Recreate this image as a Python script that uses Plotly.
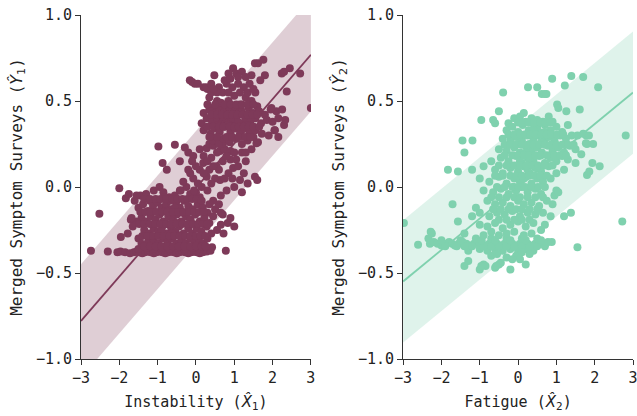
import numpy as np
import plotly.graph_objects as go

# ---------------- data ----------------
# Left panel: Instability (X1) vs merged symptom surveys (Y1)
left_pts = [
    # floor row
    (-2.74,-0.37),(-2.30,-0.375),(-2.05,-0.38),(-1.97,-0.375),(-1.85,-0.38),(-1.72,-0.385),(-1.62,-0.38),
    (-1.55,-0.375),(-1.48,-0.38),(-1.40,-0.385),(-1.33,-0.38),(-1.25,-0.375),(-1.18,-0.38),(-1.10,-0.385),
    (-1.03,-0.38),(-0.95,-0.375),(-0.88,-0.38),(-0.80,-0.385),(-0.72,-0.38),(-0.65,-0.375),(-0.58,-0.38),
    (-0.50,-0.385),(-0.43,-0.38),(-0.35,-0.375),(-0.28,-0.38),(-0.20,-0.385),(-0.12,-0.38),(-0.05,-0.375),
    (0.02,-0.38),(0.10,-0.385),(0.18,-0.38),(0.28,-0.375),(0.38,-0.37),(0.78,-0.37),
    (-1.50,-0.36),(-1.30,-0.355),(-1.10,-0.36),(-0.90,-0.355),(-0.70,-0.36),(-0.50,-0.355),(-0.30,-0.36),
    (-0.10,-0.355),(0.10,-0.36),
    # lower cluster
    (-2.52,-0.156),(-2.00,-0.007),(-1.83,-0.065),(-1.70,-0.19),(-1.96,-0.29),(-1.78,-0.27),
    (-1.45,-0.05),(-1.30,-0.04),(-1.20,-0.08),(-1.10,-0.02),(-0.95,0.00),(-0.85,-0.03),(-0.70,-0.06),
    (-0.55,-0.05),(-0.40,-0.02),(-0.25,0.00),(-0.15,-0.04),(0.00,-0.03),(0.10,-0.06),
    (-1.50,-0.12),(-1.38,-0.10),(-1.25,-0.14),(-1.12,-0.11),(-1.00,-0.09),(-0.90,-0.12),(-0.78,-0.10),
    (-0.65,-0.13),(-0.52,-0.09),(-0.42,-0.12),(-0.30,-0.08),(-0.20,-0.11),(-0.08,-0.13),(0.05,-0.10),
    (0.18,-0.12),(0.30,-0.15),
    (-1.42,-0.18),(-1.30,-0.20),(-1.18,-0.17),(-1.05,-0.19),(-0.95,-0.16),(-0.85,-0.20),(-0.72,-0.17),
    (-0.60,-0.19),(-0.50,-0.16),(-0.38,-0.20),(-0.26,-0.17),(-0.14,-0.19),(-0.02,-0.16),(0.10,-0.20),
    (0.22,-0.18),(0.35,-0.21),(0.45,-0.17),
    (-1.35,-0.25),(-1.22,-0.27),(-1.10,-0.24),(-0.98,-0.26),(-0.88,-0.23),(-0.76,-0.27),(-0.64,-0.24),
    (-0.54,-0.26),(-0.44,-0.23),(-0.32,-0.27),(-0.20,-0.24),(-0.10,-0.27),(0.02,-0.24),(0.14,-0.26),
    (0.28,-0.23),
    (-1.25,-0.32),(-1.10,-0.31),(-0.98,-0.33),(-0.86,-0.30),(-0.74,-0.32),(-0.62,-0.30),(-0.50,-0.33),
    (-0.38,-0.31),(-0.26,-0.33),(-0.14,-0.30),(-0.04,-0.32),(0.08,-0.31),(0.20,-0.33),
    (-0.80,-0.14),(-0.70,-0.22),(-0.60,-0.15),(-0.50,-0.21),(-0.45,-0.28),(-0.75,-0.29),(-0.90,-0.25),
    (-0.62,-0.27),(-0.35,-0.15),(-0.55,-0.12),(-0.68,-0.08),(-0.82,-0.06),
    (0.50,-0.13),(0.60,-0.10),(0.70,-0.16),(0.65,-0.15),(0.83,-0.21),(0.65,-0.22),(0.55,-0.25),
    (0.40,-0.27),(0.90,-0.18),(1.00,-0.23),(0.72,-0.27),(0.30,-0.30),(0.42,-0.35),
    (-1.60,-0.08),(-1.55,-0.20),(-1.65,-0.23),(-1.50,-0.30),(-1.42,-0.33),(-1.68,-0.18),
    (-1.75,-0.04),(-1.55,-0.05),
    (-1.35,-0.07),(-1.20,-0.07),(-1.05,-0.07),(-0.92,-0.07),(-0.78,-0.07),(-0.62,-0.07),(-0.48,-0.07),
    (-0.35,-0.07),(-0.22,-0.07),(-0.10,-0.07),(0.02,-0.07),
    (-1.45,-0.145),(-1.32,-0.145),(-1.18,-0.145),(-1.03,-0.145),(-0.88,-0.145),(-0.74,-0.145),
    (-0.60,-0.145),(-0.46,-0.145),(-0.32,-0.145),(-0.18,-0.145),(-0.05,-0.145),(0.08,-0.145),(0.20,-0.145),
    (-1.48,-0.215),(-1.35,-0.215),(-1.20,-0.215),(-1.06,-0.215),(-0.92,-0.215),(-0.78,-0.215),
    (-0.64,-0.215),(-0.50,-0.215),(-0.36,-0.215),(-0.22,-0.215),(-0.08,-0.215),(0.06,-0.215),
    (0.18,-0.215),(0.30,-0.215),
    (-1.40,-0.285),(-1.26,-0.285),(-1.12,-0.285),(-0.98,-0.285),(-0.84,-0.285),(-0.70,-0.285),
    (-0.56,-0.285),(-0.42,-0.285),(-0.28,-0.285),(-0.14,-0.285),(0.00,-0.285),(0.12,-0.285),(0.24,-0.285),
    (-1.35,-0.345),(-1.20,-0.345),(-1.05,-0.345),(-0.90,-0.345),(-0.75,-0.345),(-0.60,-0.345),
    (-0.45,-0.345),(-0.30,-0.345),(-0.15,-0.345),(0.00,-0.345),(0.15,-0.345),(0.25,-0.345),
    # middle diagonal
    (-0.98,0.235),(-0.55,0.245),(-0.29,0.23),(-0.87,0.14),(-0.76,0.10),(-0.42,0.15),(-0.20,0.20),
    (-0.07,0.18),(0.28,0.225),(0.35,0.25),(0.45,0.24),(0.63,0.21),(0.75,0.22),(0.90,0.21),(1.00,0.20),
    (1.58,0.255),(1.54,0.06),(1.60,0.04),(0.19,0.14),(0.54,0.12),(0.97,0.11),(1.15,0.04),(0.63,0.04),
    (0.28,0.06),(-0.07,0.05),(-0.33,0.03),(-0.42,-0.02),(0.10,0.10),(0.40,0.17),(0.70,0.15),(0.85,0.08),
    (1.10,0.12),(1.25,0.08),(1.30,0.15),(0.50,0.05),(0.15,0.00),(0.30,-0.02),(0.00,0.12),(-0.20,0.10),
    (0.80,-0.02),(1.00,0.00),(1.20,-0.03),(1.35,0.02),(0.65,-0.05),(0.45,-0.08),(-0.15,0.08),(0.35,0.10),
    (0.90,0.16),
    (0.05,0.02),(0.20,0.08),(0.40,0.02),(0.55,0.20),(0.60,0.10),(0.75,0.05),(0.95,0.05),(1.05,0.16),
    (0.45,0.12),(0.20,0.18),(-0.10,0.15),(0.10,0.22),(0.80,0.18),(1.20,0.20),(0.70,0.25),(0.55,0.28),
    (0.30,0.15),(-0.05,-0.02),(0.15,-0.08),(0.35,-0.10),
    # upper cluster
    (0.35,0.52),(0.55,0.50),(0.70,0.55),(0.85,0.50),(1.00,0.53),(1.15,0.48),(1.30,0.52),(1.45,0.50),
    (1.60,0.47),(0.45,0.46),(0.95,0.58),(1.10,0.60),(1.25,0.58),(0.80,0.60),(0.60,0.58),(0.30,0.57),
    (0.20,0.58),
    (0.20,0.43),(0.35,0.45),(0.50,0.43),(0.62,0.46),(0.75,0.44),(0.88,0.46),(1.00,0.43),(1.12,0.45),
    (1.25,0.42),(1.38,0.46),(1.50,0.43),(1.65,0.44),(1.80,0.42),(1.95,0.45),(2.10,0.44),(2.25,0.45),
    (0.15,0.37),(0.28,0.40),(0.42,0.38),(0.55,0.40),(0.68,0.37),(0.80,0.40),(0.92,0.38),(1.05,0.41),
    (1.18,0.37),(1.30,0.40),(1.42,0.38),(1.55,0.40),(1.70,0.37),(1.85,0.39),(2.00,0.38),(2.30,0.36),
    (0.20,0.33),(0.38,0.31),(0.50,0.34),(0.62,0.32),(0.75,0.35),(0.90,0.32),(1.02,0.34),(1.15,0.31),
    (1.28,0.34),(1.40,0.32),(1.55,0.33),(1.72,0.31),(1.90,0.30),(2.05,0.33),(2.15,0.29),
    (0.45,0.27),(0.60,0.25),(0.72,0.28),(0.88,0.26),(1.05,0.28),(1.20,0.25),(1.35,0.27),(1.50,0.29),
    (1.62,0.26),(1.45,0.22),(1.30,0.20),
    (0.80,0.42),(0.95,0.40),(1.10,0.38),(0.70,0.41),(0.85,0.36),(1.00,0.47),(1.20,0.44),(0.65,0.49),
    (1.35,0.36),(0.58,0.36),
    (0.30,0.35),(0.45,0.35),(0.60,0.35),(0.72,0.35),(0.88,0.35),(1.00,0.35),(1.12,0.35),(1.25,0.35),
    (1.38,0.35),(1.50,0.35),(1.65,0.35),
    (0.40,0.42),(0.55,0.42),(0.68,0.42),(0.82,0.42),(0.95,0.42),(1.08,0.42),(1.22,0.42),(1.35,0.42),
    (1.48,0.42),(1.60,0.42),
    (0.30,0.48),(0.50,0.48),(0.75,0.48),(0.90,0.48),(1.05,0.48),(1.20,0.48),(1.35,0.48),(1.50,0.48),
    (0.35,0.29),(0.55,0.29),(0.80,0.29),(0.95,0.29),(1.12,0.29),(1.28,0.29),(1.42,0.29),
    (0.40,0.55),(0.55,0.55),(0.85,0.55),(1.15,0.55),(1.35,0.55),(1.55,0.55),
    (0.97,0.69),(1.05,0.66),(1.20,0.67),(1.10,0.64),(1.54,0.72),(1.62,0.72),(1.76,0.74),(1.80,0.65),
    (1.68,0.62),(2.24,0.66),(2.30,0.67),(2.45,0.69),(2.72,0.66),(2.37,0.555),(3.00,0.46),(1.97,0.46),
    (2.33,0.39),(2.06,0.33),(2.15,0.40),(-0.16,0.62),(-0.10,0.61),(-0.03,0.60),(0.05,0.60),(0.48,0.65),
    (0.28,0.58),(0.40,0.60),(0.45,0.57),(0.75,0.62),(0.85,0.66),(0.90,0.63),(1.40,0.60),(1.50,0.57),
    (1.45,0.65),(1.30,0.64),
]

# Right panel: Fatigue (X2) vs merged symptom surveys (Y2)
right_pts = [
    # floor row
    (-2.30,-0.33),(-2.20,-0.32),(-2.10,-0.33),(-2.00,-0.34),(-1.90,-0.33),(-1.80,-0.32),(-1.72,-0.33),
    (-1.65,-0.34),(-1.55,-0.33),(-1.45,-0.32),(-1.35,-0.33),(-1.25,-0.34),(-1.15,-0.33),(-1.05,-0.32),
    (-0.95,-0.33),(-0.85,-0.34),(-0.75,-0.33),(-0.65,-0.32),(-0.55,-0.33),(-0.45,-0.34),(-0.35,-0.33),
    (-0.25,-0.32),(-0.15,-0.33),(-0.05,-0.34),(0.05,-0.33),(0.15,-0.32),(0.25,-0.33),(0.35,-0.34),
    (0.45,-0.33),(0.55,-0.32),(0.65,-0.33),(0.78,-0.32),(0.88,-0.32),
    (-1.30,-0.37),(-1.00,-0.36),(-0.80,-0.37),(-0.60,-0.36),(-0.40,-0.37),(-0.20,-0.36),(0.00,-0.37),
    (0.20,-0.36),(0.40,-0.37),(-2.25,-0.27),(-1.10,-0.30),(-0.70,-0.30),(-0.30,-0.30),(0.10,-0.30),(0.50,-0.30),
    (-1.90,-0.345),(-1.60,-0.345),(-1.40,-0.345),(-1.20,-0.345),(-0.90,-0.345),(-0.70,-0.345),
    (-0.50,-0.345),(-0.30,-0.345),(-0.10,-0.345),(0.10,-0.345),(0.30,-0.345),(0.50,-0.345),(0.70,-0.345),
    (-2.00,-0.31),(-1.50,-0.31),(-0.95,-0.31),(-0.60,-0.31),(-0.20,-0.31),(0.20,-0.31),(0.60,-0.31),
    # below floor
    (-1.40,-0.46),(-1.30,-0.43),(-1.00,-0.48),(-0.90,-0.45),(-0.85,-0.46),(-0.60,-0.47),(-0.50,-0.45),
    (-0.45,-0.44),(-0.30,-0.41),(-0.20,-0.48),(-0.05,-0.40),(0.10,-0.38),(0.20,-0.45),(0.30,-0.39),
    (-0.70,-0.40),(-0.15,-0.42),(-0.55,-0.39),(0.05,-0.42),(-0.96,-0.46),(-0.57,-0.46),
    # outliers
    (-2.98,-0.21),(-2.61,-0.336),(-2.28,-0.26),(-2.34,-0.30),(-1.83,0.10),(-1.57,0.09),(-1.71,-0.10),
    (-1.57,-0.20),(-1.45,0.27),(-1.19,0.27),(-1.40,0.20),(-0.96,0.39),(-0.65,0.39),(-0.60,0.37),
    (-0.50,0.44),(-0.39,0.55),(0.26,0.58),(0.50,0.58),(0.62,0.54),(0.70,0.54),(0.74,0.54),(0.89,0.63),
    (1.22,0.59),(1.39,0.645),(1.70,0.64),(2.09,0.58),(1.61,0.45),(1.26,0.44),(1.02,0.48),(1.05,0.46),
    (2.81,0.30),(2.72,-0.20),(1.55,-0.35),(2.13,0.12),(1.94,0.14),(1.80,0.07),(1.86,0.09),(1.96,0.25),
    (1.78,0.30),(1.77,0.255),(1.38,-0.15),(1.20,-0.17),
    # core
    (-0.10,0.40),(0.05,0.41),(0.20,0.38),(0.35,0.40),(0.50,0.39),(0.65,0.38),(0.80,0.41),(0.90,0.38),
    (-0.25,0.37),(0.15,0.43),
    (-0.30,0.33),(-0.15,0.35),(0.00,0.32),(0.12,0.36),(0.28,0.33),(0.42,0.35),(0.55,0.32),(0.70,0.36),
    (0.85,0.33),(1.00,0.35),(1.15,0.32),(1.30,0.36),
    (-0.40,0.28),(-0.20,0.27),(-0.05,0.29),(0.10,0.27),(0.25,0.30),(0.40,0.27),(0.52,0.30),(0.68,0.27),
    (0.80,0.29),(0.95,0.27),(1.10,0.30),(1.25,0.28),(1.40,0.30),(1.55,0.30),(1.70,0.31),(1.85,0.30),
    (-0.50,0.22),(-0.30,0.21),(-0.10,0.23),(0.05,0.20),(0.20,0.24),(0.35,0.21),(0.50,0.23),(0.62,0.20),
    (0.78,0.24),(0.90,0.21),(1.05,0.23),(1.20,0.20),(1.35,0.24),(1.50,0.22),(1.65,0.19),(1.80,0.25),
    (-0.70,0.15),(-0.45,0.17),(-0.25,0.15),(-0.05,0.18),(0.10,0.14),(0.25,0.17),(0.40,0.15),(0.55,0.18),
    (0.70,0.14),(0.85,0.17),(1.00,0.15),(1.15,0.18),(1.30,0.16),(1.50,0.14),
    (-1.20,0.10),(-0.90,0.12),(-0.60,0.10),(-0.40,0.08),(-0.20,0.11),(0.00,0.09),(0.15,0.12),(0.30,0.08),
    (0.45,0.11),(0.60,0.09),(0.80,0.12),(1.00,0.08),(1.20,0.10),
    (-1.00,0.05),(-0.75,0.03),(-0.50,0.06),(-0.30,0.02),(-0.10,0.05),(0.05,0.03),(0.20,0.06),(0.35,0.02),
    (0.50,0.05),(0.65,0.03),(0.85,0.05),(1.00,-0.02),
    (-0.90,-0.02),(-0.65,-0.03),(-0.45,-0.01),(-0.25,-0.04),(-0.05,-0.02),(0.10,0.00),(0.25,-0.03),
    (0.45,-0.01),(0.60,-0.04),(0.95,-0.05),(1.05,-0.03),
    (-1.10,-0.12),(-0.80,-0.08),(-0.60,-0.10),(-0.40,-0.09),(-0.20,-0.11),(0.00,-0.08),(0.15,-0.10),
    (0.35,-0.09),(0.55,-0.11),(0.75,-0.08),(0.90,-0.10),
    (-1.20,-0.17),(-1.00,-0.15),(-0.75,-0.17),(-0.55,-0.15),(-0.35,-0.16),(-0.15,-0.14),(0.05,-0.17),
    (0.25,-0.15),(0.45,-0.16),(0.65,-0.15),(0.85,-0.17),
    (-1.00,-0.22),(-0.80,-0.23),(-0.60,-0.21),(-0.40,-0.24),(-0.20,-0.22),(0.00,-0.20),(0.20,-0.23),
    (0.40,-0.21),(0.60,-0.25),(0.70,-0.22),
    (-1.40,-0.27),(-0.90,-0.28),(-0.70,-0.26),(-0.50,-0.28),(-0.30,-0.27),(-0.10,-0.26),(0.15,-0.28),
    (0.35,-0.27),
    (0.10,0.30),(0.30,0.25),(0.50,0.35),(0.70,0.32),(0.20,0.20),(0.40,0.33),(0.60,0.26),(0.00,0.25),
    (0.15,0.05),(0.25,0.10),(0.05,0.15),(-0.10,0.00),(0.30,0.15),
    (0.00,0.375),(0.12,0.375),(0.28,0.375),(0.42,0.375),(0.58,0.375),(0.72,0.375),(0.85,0.375),
    (-0.25,0.305),(-0.10,0.305),(0.05,0.305),(0.18,0.305),(0.32,0.305),(0.46,0.305),(0.60,0.305),
    (0.75,0.305),(0.88,0.305),(1.02,0.305),(1.18,0.305),
    (-0.35,0.245),(-0.20,0.245),(-0.05,0.245),(0.10,0.245),(0.25,0.245),(0.40,0.245),(0.55,0.245),
    (0.70,0.245),(0.85,0.245),(1.00,0.245),(1.15,0.245),(1.30,0.245),(1.45,0.245),
    (-0.35,0.185),(-0.15,0.185),(0.00,0.185),(0.15,0.185),(0.30,0.185),(0.45,0.185),(0.60,0.185),
    (0.75,0.185),(0.95,0.185),(1.10,0.185),(1.25,0.185),
    (-0.50,0.125),(-0.30,0.125),(-0.10,0.125),(0.05,0.125),(0.22,0.125),(0.38,0.125),(0.52,0.125),
    (0.68,0.125),(0.90,0.125),
    (-0.60,0.065),(-0.40,0.065),(-0.20,0.065),(-0.05,0.065),(0.10,0.065),(0.28,0.065),(0.42,0.065),
    (0.58,0.065),(0.75,0.065),
    (-0.55,0.00),(-0.35,0.00),(-0.15,0.00),(0.02,0.00),(0.18,0.00),(0.35,0.00),(0.52,0.00),(0.70,0.00),
    (-0.70,-0.06),(-0.50,-0.06),(-0.30,-0.06),(-0.10,-0.06),(0.05,-0.06),(0.25,-0.06),(0.45,-0.06),
    (0.65,-0.06),
    (-0.65,-0.13),(-0.45,-0.13),(-0.25,-0.13),(-0.05,-0.13),(0.10,-0.13),(0.30,-0.13),(0.50,-0.13),
    (-0.50,-0.19),(-0.30,-0.19),(-0.10,-0.19),(0.10,-0.19),(0.30,-0.19),
]

instability_x = [p[0] for p in left_pts]
survey1_y = [p[1] for p in left_pts]
fatigue_x = [p[0] for p in right_pts]
survey2_y = [p[1] for p in right_pts]

# fitted line (slope, intercept) and band half-width
fit1 = dict(slope=0.258, intercept=-0.005, half=0.33)
fit2 = dict(slope=0.183, intercept=0.0, half=0.355)

x_ticks = [-3, -2, -1, 0, 1, 2, 3]
y_ticks = [-1.0, -0.5, 0.0, 0.5, 1.0]

maroon = "#7e3a59"
mint = "#7fd1ae"

fig = go.Figure()

def add_panel(xs, ys, fit, color, band_rgba, xa, ya):
    gx = np.array([-3.0, 3.0])
    gy = fit["slope"] * gx + fit["intercept"]
    fig.add_trace(go.Scatter(
        x=list(gx) + list(gx[::-1]),
        y=list(gy + fit["half"]) + list((gy - fit["half"])[::-1]),
        fill="toself", fillcolor=band_rgba, line=dict(width=0),
        mode="lines", hoverinfo="skip", showlegend=False, xaxis=xa, yaxis=ya))
    fig.add_trace(go.Scatter(
        x=gx, y=gy, mode="lines", line=dict(color=color, width=1.8),
        showlegend=False, xaxis=xa, yaxis=ya))
    fig.add_trace(go.Scatter(
        x=xs, y=ys, mode="markers",
        marker=dict(color=color, size=8, line=dict(width=0)),
        showlegend=False, xaxis=xa, yaxis=ya))

add_panel(instability_x, survey1_y, fit1, maroon, "rgba(126,58,89,0.25)", "x", "y")
add_panel(fatigue_x, survey2_y, fit2, mint, "rgba(127,209,174,0.25)", "x2", "y2")

mono = "DejaVu Sans Mono"
math_span = '<span style="font-family:DejaVu Sans">'
axis_common = dict(
    showgrid=False, zeroline=False, showline=True, linecolor="#333333", linewidth=1,
    ticks="outside", ticklen=5, tickwidth=1, tickcolor="#333333",
    tickfont=dict(family=mono, size=15, color="#222222"),
    automargin=False, ticklabeloverflow="allow",
)
xt_font = dict(family=mono, size=15, color="#222222")
yt_font = dict(family=mono, size=16, color="#222222")

# figure fills the whole 637x416 window (page margin removed below)
FW, FH = 637, 416
L, T = 81, 15
R = FW - 633.3
B = FH - 359.3
W = FW - L - R
fig.update_layout(
    width=FW, height=FH,
    margin=dict(l=L, r=R, t=T, b=B),
    paper_bgcolor="white", plot_bgcolor="white",
    hovermode=False,
    xaxis=dict(domain=[0, 230 / W], range=[-3, 3], tickvals=x_ticks,
               title=dict(text="Instability (" + math_span + "<i>X̂</i><sub>1</sub></span>)",
                          standoff=10, font=xt_font),
               anchor="y", **axis_common),
    yaxis=dict(domain=[0, 1], range=[-1, 1], tickvals=y_ticks, tickformat=".1f",
               title=dict(text="Merged Symptom Surveys (" + math_span + "<i>Ŷ</i><sub>1</sub></span>)",
                          standoff=9, font=yt_font),
               anchor="x", **axis_common),
    xaxis2=dict(domain=[(403.3 - 81) / W, 1], range=[-3, 3], tickvals=x_ticks,
                title=dict(text="Fatigue (" + math_span + "<i>X̂</i><sub>2</sub></span>)",
                           standoff=10, font=xt_font),
                anchor="y2", **axis_common),
    yaxis2=dict(domain=[0, 1], range=[-1, 1], tickvals=y_ticks, tickformat=".1f",
                title=dict(text="Merged Symptom Surveys (" + math_span + "<i>Ŷ</i><sub>2</sub></span>)",
                           standoff=9, font=yt_font),
                anchor="x2", **axis_common),
)

fig.write_html("out.html",
               config={"displayModeBar": False, "staticPlot": True},
               post_script="document.body.style.margin='0';document.body.style.overflow='hidden';")
